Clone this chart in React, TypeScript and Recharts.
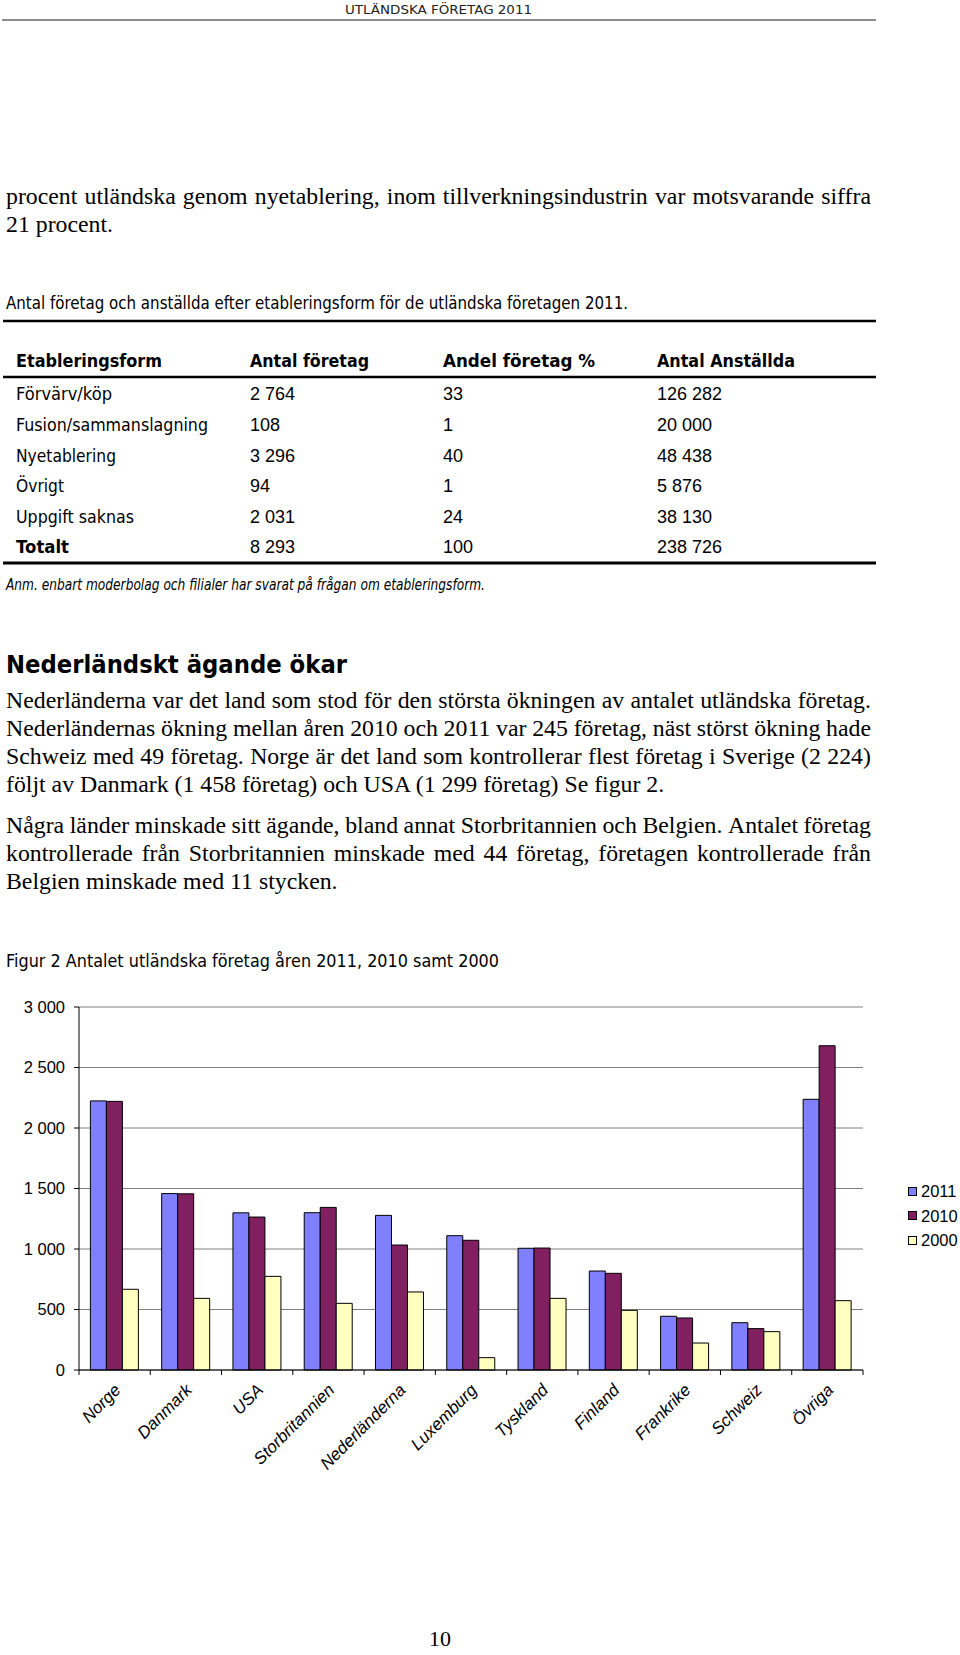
import React from 'react';
import { BarChart, Bar, XAxis, YAxis, CartesianGrid, Legend } from 'recharts';

// ---------- data ----------
const countries = ['Norge', 'Danmark', 'USA', 'Storbritannien', 'Nederländerna', 'Luxemburg', 'Tyskland', 'Finland', 'Frankrike', 'Schweiz', 'Övriga'];
const values2011 = [2224, 1458, 1299, 1300, 1278, 1110, 1006, 818, 444, 391, 2237];
const values2010 = [2220, 1456, 1264, 1344, 1033, 1072, 1008, 799, 430, 342, 2680];
const values2000 = [667, 592, 774, 551, 645, 102, 592, 493, 223, 317, 573];
const seriesNames = ['2011', '2010', '2000'];
const seriesKeys = ['y2011', 'y2010', 'y2000'];
const seriesColors = ['#8080FF', '#802060', '#FFFFC0'];
const yTicks = [0, 500, 1000, 1500, 2000, 2500, 3000];

const tableHeader = ['Etableringsform', 'Antal företag', 'Andel företag %', 'Antal Anställda'];
const tableForms = ['Förvärv/köp', 'Fusion/sammanslagning', 'Nyetablering', 'Övrigt', 'Uppgift saknas', 'Totalt'];
const tableCompanies = ['2 764', '108', '3 296', '94', '2 031', '8 293'];
const tableShares = ['33', '1', '40', '1', '24', '100'];
const tableEmployees = ['126 282', '20 000', '48 438', '5 876', '38 130', '238 726'];

const introLines = [
  'procent utländska genom nyetablering, inom tillverkningsindustrin var motsvarande siffra',
  '21 procent.',
];
const para1Lines = [
  'Nederländerna var det land som stod för den största ökningen av antalet utländska företag.',
  'Nederländernas ökning mellan åren 2010 och 2011 var 245 företag, näst störst ökning hade',
  'Schweiz med 49 företag. Norge är det land som kontrollerar flest företag i Sverige (2 224)',
  'följt av Danmark (1 458 företag) och USA (1 299 företag) Se figur 2.',
];
const para2Lines = [
  'Några länder minskade sitt ägande, bland annat Storbritannien och Belgien. Antalet företag',
  'kontrollerade från Storbritannien minskade med 44 företag, företagen kontrollerade från',
  'Belgien minskade med 11 stycken.',
];

const data = countries.map((c, i) => ({
  name: c,
  y2011: values2011[i],
  y2010: values2010[i],
  y2000: values2000[i],
}));

// ---------- layout ----------
const SANS = '"DejaVu Sans", Verdana, sans-serif';
const ARIAL = '"Liberation Sans", Arial, sans-serif';
const SERIF = '"Liberation Serif", "Times New Roman", serif';

const CHART_W = 960;
const CHART_H = 540;
const XAXIS_H = 150;
const MARGIN = { top: 27, right: 97, bottom: 0, left: 0 };
const YAXIS_W = 79;
const BAND = (CHART_W - MARGIN.left - MARGIN.right - YAXIS_W) / countries.length;

const colX = [16, 250, 443, 657];
const headerBaseline = 367;
const rowBaselines = [400, 431, 462, 492, 523, 553];
const headerWidths = [146, 119, 152, 138];
const formWidths = [96, 192, 100, 48, 118, 53];

const fmt = (n: number) =>
  n >= 1000 ? `${Math.floor(n / 1000)} ${String(n % 1000).padStart(3, '0')}` : String(n);

function CountryTick(props: any) {
  const { x, y, payload, index } = props;
  const tx = x + 7;
  const ty = y + 21;
  return (
    <g>
      <line x1={x - BAND / 2} x2={x - BAND / 2} y1={y} y2={y + 5} stroke="#000" />
      {index === countries.length - 1 && (
        <line x1={x + BAND / 2} x2={x + BAND / 2} y1={y} y2={y + 5} stroke="#000" />
      )}
      <text
        x={tx}
        y={ty}
        textAnchor="end"
        transform={`rotate(-45 ${tx} ${ty})`}
        fontStyle="italic"
        fontSize={17}
        fontFamily={ARIAL}
        fill="#000"
      >
        {payload.value}
      </text>
    </g>
  );
}

function LegendContent(props: any) {
  const items = [...(props.payload || [])].sort(
    (a: any, b: any) => seriesNames.indexOf(String(a.value)) - seriesNames.indexOf(String(b.value)),
  );
  return (
    <div style={{ fontFamily: ARIAL, fontSize: 16.5, color: '#000' }}>
      {items.map((it: any) => (
        <div key={it.value} style={{ height: 24.5, display: 'flex', alignItems: 'center' }}>
          <span
            style={{
              display: 'inline-block',
              width: 7,
              height: 7,
              border: '1px solid #000',
              background: it.color,
              marginRight: 4,
            }}
          />
          <span style={{ lineHeight: '18px' }}>{it.value}</span>
        </div>
      ))}
    </div>
  );
}

function SerifLine({ text, baseline, justify }: { text: string; baseline: number; justify: boolean }) {
  const base: React.CSSProperties = {
    position: 'absolute',
    left: 6,
    top: baseline - 22.4,
    width: 865,
    fontFamily: SERIF,
    fontSize: 23.8,
    lineHeight: '28px',
    height: 28,
    color: '#000',
    whiteSpace: 'nowrap',
  };
  if (!justify) return <div style={base}>{text}</div>;
  return (
    <div style={{ ...base, display: 'flex', justifyContent: 'space-between', flexWrap: 'nowrap' }}>
      {text.split(' ').map((w, i) => (
        <span key={i}>{w}</span>
      ))}
    </div>
  );
}

export default function App() {
  return (
    <div style={{ position: 'absolute', left: 0, top: 0, width: 960, height: 1655, background: '#fff', overflow: 'hidden' }}>
      <svg width={960} height={1655} style={{ position: 'absolute', left: 0, top: 0 }}>
        {/* running header */}
        <text x={345} y={14} fontFamily={SANS} fontSize={12.5} textLength={187} lengthAdjust="spacingAndGlyphs" fill="#222">
          UTLÄNDSKA FÖRETAG 2011
        </text>
        <line x1={2} x2={876} y1={20} y2={20} stroke="#666" strokeWidth={1.5} />

        {/* table caption */}
        <text x={6} y={309} fontFamily={SANS} fontSize={17} textLength={622} lengthAdjust="spacingAndGlyphs" fill="#000">
          Antal företag och anställda efter etableringsform för de utländska företagen 2011.
        </text>
        <line x1={3} x2={876} y1={321} y2={321} stroke="#000" strokeWidth={2.5} />
        {tableHeader.map((h, i) => (
          <text key={h} x={colX[i]} y={headerBaseline} fontFamily={SANS} fontWeight="bold" fontSize={17}
            textLength={headerWidths[i]} lengthAdjust="spacingAndGlyphs" fill="#000">{h}</text>
        ))}
        <line x1={3} x2={876} y1={377} y2={377} stroke="#000" strokeWidth={2.5} />
        {tableForms.map((f, r) => (
          <g key={f}>
            <text x={colX[0]} y={rowBaselines[r]} fontFamily={SANS} fontSize={17}
              fontWeight={r === tableForms.length - 1 ? 'bold' : 'normal'}
              textLength={formWidths[r]} lengthAdjust="spacingAndGlyphs" fill="#000">{f}</text>
            <text x={colX[1]} y={rowBaselines[r]} fontFamily={ARIAL} fontSize={18} fill="#000">{tableCompanies[r]}</text>
            <text x={colX[2]} y={rowBaselines[r]} fontFamily={ARIAL} fontSize={18} fill="#000">{tableShares[r]}</text>
            <text x={colX[3]} y={rowBaselines[r]} fontFamily={ARIAL} fontSize={18} fill="#000">{tableEmployees[r]}</text>
          </g>
        ))}
        <line x1={3} x2={876} y1={563} y2={563} stroke="#000" strokeWidth={3} />
        <text x={6} y={590} fontFamily={SANS} fontStyle="italic" fontSize={15} textLength={479} lengthAdjust="spacingAndGlyphs" fill="#000">
          Anm. enbart moderbolag och filialer har svarat på frågan om etableringsform.
        </text>

        {/* heading */}
        <text x={6} y={673} fontFamily={SANS} fontWeight="bold" fontSize={25} textLength={341} lengthAdjust="spacingAndGlyphs" fill="#000">
          Nederländskt ägande ökar
        </text>

        {/* figure title */}
        <text x={6} y={967} fontFamily={SANS} fontSize={18} textLength={493} lengthAdjust="spacingAndGlyphs" fill="#000">
          Figur 2 Antalet utländska företag åren 2011, 2010 samt 2000
        </text>

        {/* page number */}
        <text x={440} y={1646} fontFamily={SERIF} fontSize={22} textAnchor="middle" fill="#000">10</text>
      </svg>

      <SerifLine text={introLines[0]} baseline={204} justify />
      <SerifLine text={introLines[1]} baseline={232} justify={false} />
      {para1Lines.map((t, i) => (
        <SerifLine key={t} text={t} baseline={[708, 736, 764, 792][i]} justify={i < para1Lines.length - 1} />
      ))}
      {para2Lines.map((t, i) => (
        <SerifLine key={t} text={t} baseline={[833, 861, 889][i]} justify={i < para2Lines.length - 1} />
      ))}

      <div style={{ position: 'absolute', left: 0, top: 980, width: CHART_W, height: CHART_H }}>
        <BarChart width={CHART_W} height={CHART_H} data={data} margin={MARGIN} barCategoryGap="16%" barGap={0}>
          <CartesianGrid vertical={false} stroke="#808080" strokeWidth={1} />
          <XAxis
            dataKey="name"
            interval={0}
            height={XAXIS_H}
            tickLine={false}
            tickSize={0}
            tickMargin={0}
            axisLine={{ stroke: '#000', strokeWidth: 1 }}
            tick={<CountryTick />}
          />
          <YAxis
            width={YAXIS_W}
            domain={[0, 3000]}
            ticks={yTicks}
            interval={0}
            tickFormatter={fmt}
            tickSize={5}
            tickMargin={9}
            axisLine={{ stroke: '#000' }}
            tickLine={{ stroke: '#000' }}
            tick={{ fontFamily: ARIAL, fontSize: 16.5, fill: '#000' }}
          />
          <YAxis
            yAxisId="right"
            orientation="right"
            width={0}
            domain={[0, 3000]}
            tick={false}
            tickLine={false}
            axisLine={{ stroke: '#808080' }}
          />
          <Legend
            layout="vertical"
            align="center"
            verticalAlign="middle"
            wrapperStyle={{ left: 908, top: 198.75, width: 60 }}
            content={<LegendContent />}
          />
          {seriesKeys.map((k, i) => (
            <Bar
              key={k}
              dataKey={k}
              name={seriesNames[i]}
              fill={seriesColors[i]}
              stroke="#000"
              strokeWidth={1}
              isAnimationActive={false}
            />
          ))}
        </BarChart>
      </div>
    </div>
  );
}
